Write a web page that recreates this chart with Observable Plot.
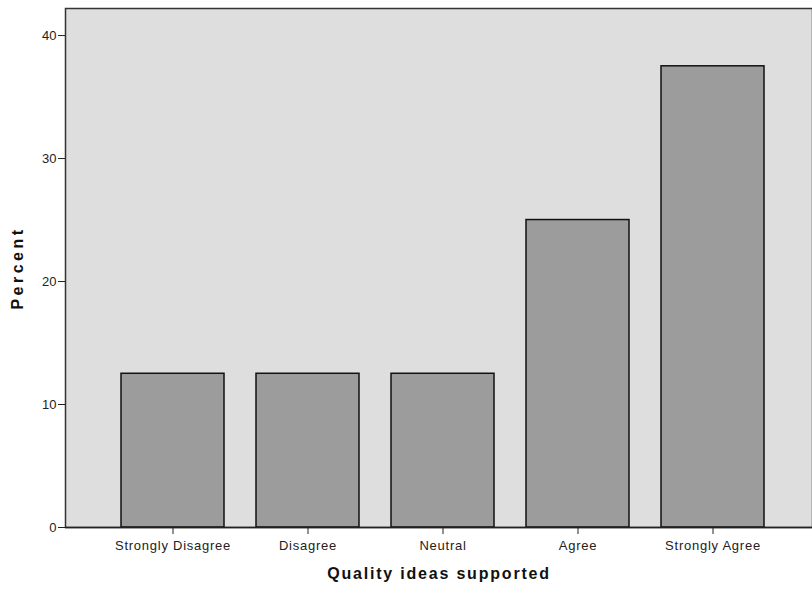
<!DOCTYPE html>
<html>
<head>
<meta charset="utf-8">
<script src="https://cdn.jsdelivr.net/npm/d3@7"></script>
<script src="https://cdn.jsdelivr.net/npm/@observablehq/plot@0.6"></script>
<style>
  html, body { margin: 0; padding: 0; background: #fff; }
  body { font-family: "Liberation Sans", Arial, sans-serif; }
  #chart svg g[aria-label="x-axis tick label"] text { letter-spacing: 0.75px; }
</style>
</head>
<body>
<div id="chart"></div>
<script>
const categories = ["Strongly Disagree", "Disagree", "Neutral", "Agree", "Strongly Agree"];
const percents = [12.5, 12.5, 12.5, 25, 37.5];
const yTicks = [0, 10, 20, 30, 40];
const xTitle = "Quality ideas supported";
const yTitle = "Percent";

const data = categories.map((c, i) => ({category: c, percent: percents[i]}));

const chart = Plot.plot({
  width: 812,
  height: 598,
  marginTop: 8,
  marginBottom: 71,
  marginLeft: 65,
  marginRight: 0,
  style: {fontFamily: "'Liberation Sans', Arial, sans-serif", fontSize: "13px", color: "#222", background: "#fff"},
  x: {domain: categories, range: [64, 821], paddingInner: 0.24, paddingOuter: 0.405, label: null},
  y: {domain: [0, 42.2], label: null},
  marks: [
    Plot.frame({fill: "#dedede", stroke: "#333", strokeWidth: 1.5}),
    Plot.barY(data, {x: "category", y: "percent", fill: "#9c9c9c", stroke: "#111", strokeWidth: 1.5}),
    Plot.axisY({ticks: yTicks, tickSize: 7, tickPadding: 2, fontSize: 13, label: null}),
    Plot.axisX({tickSize: 7, tickPadding: 6, fontSize: 13, label: null}),
    Plot.ruleY([0], {stroke: "#222", strokeWidth: 1.5}),
    Plot.text([yTitle], {frameAnchor: "left", textAnchor: "middle", dx: -48, rotate: -90, fontWeight: "bold", fontSize: 16, fill: "#111"}),
    Plot.text([xTitle], {frameAnchor: "bottom", dy: 51, fontWeight: "bold", fontSize: 16, fill: "#111"})
  ]
});
// widen letter spacing of axis titles to match the reference's loose typesetting
chart.querySelectorAll('g[aria-label="text"] text').forEach(t => t.setAttribute("letter-spacing", t.textContent === yTitle ? "3.5px" : "1.8px"));
document.getElementById("chart").appendChild(chart);
</script>
</body>
</html>
